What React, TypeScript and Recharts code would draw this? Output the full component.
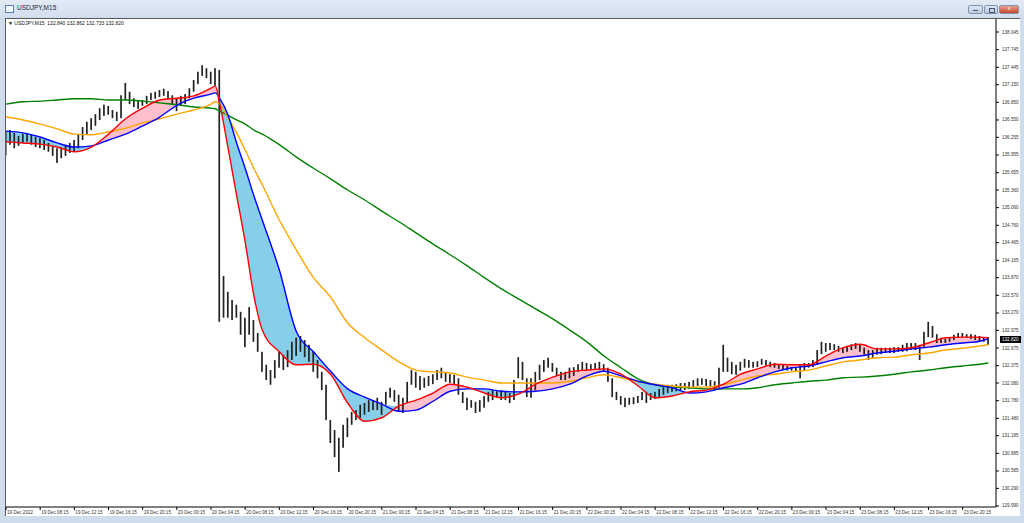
import React from 'react';
import { ComposedChart, Bar, Line, Area, XAxis, YAxis, ReferenceLine } from 'recharts';

// time labels on the bottom axis (one every 8 half-hour bars)
const timeLabels = [
  '19 Dec 2022', '19 Dec 08:15', '19 Dec 12:15', '19 Dec 16:15', '19 Dec 20:15',
  '20 Dec 00:15', '20 Dec 04:15', '20 Dec 08:15', '20 Dec 12:15', '20 Dec 16:15', '20 Dec 20:15',
  '21 Dec 00:15', '21 Dec 04:15', '21 Dec 08:15', '21 Dec 12:15', '21 Dec 16:15', '21 Dec 20:15',
  '22 Dec 00:15', '22 Dec 04:15', '22 Dec 08:15', '22 Dec 12:15', '22 Dec 16:15', '22 Dec 20:15',
  '23 Dec 00:15', '23 Dec 04:15', '23 Dec 08:15', '23 Dec 12:15', '23 Dec 16:15', '23 Dec 20:15',
];
const labelBars = timeLabels.map((_, k) => k * 8);

const priceTicks = [
  138.045, 137.745, 137.445, 137.15, 136.85, 136.55, 136.255, 135.955, 135.655, 135.36,
  135.06, 134.76, 134.465, 134.165, 133.87, 133.57, 133.27, 132.975, 132.675, 132.375,
  132.08, 131.78, 131.48, 131.185, 130.885, 130.585, 130.29, 129.99,
];

const highs = [
  136.35, 136.38, 136.33, 136.28, 136.31, 136.33, 136.30, 136.26, 136.24, 136.21,
  136.16, 136.11, 136.07, 136.09, 136.13, 136.16, 136.21, 136.31, 136.43, 136.52,
  136.58, 136.65, 136.75, 136.81, 136.79, 136.72, 136.69, 136.97, 137.18, 137.03,
  136.92, 136.87, 136.89, 136.96, 137.01, 137.03, 137.06, 137.08, 137.04, 136.97,
  136.92, 136.96, 136.99, 137.09, 137.23, 137.37, 137.48, 137.43, 137.37, 137.43,
  137.40, 133.90, 133.63, 133.49, 133.41, 133.29, 133.19, 133.37, 133.15, 132.93,
  132.61, 132.39, 132.30, 132.47, 132.61, 132.56, 132.64, 132.78, 132.85, 132.88,
  132.81, 132.73, 132.61, 132.47, 132.27, 132.05, 131.45, 131.28, 131.15, 131.37,
  131.49, 131.59, 131.62, 131.71, 131.74, 131.79, 131.79, 131.83, 131.76, 131.93,
  132.00, 131.96, 131.88, 131.83, 132.10, 132.30, 132.27, 132.20, 132.17, 132.20,
  132.23, 132.30, 132.34, 132.27, 132.23, 132.22, 132.16, 131.93, 131.83, 131.79,
  131.76, 131.79, 131.86, 131.93, 131.96, 131.94, 131.96, 131.93, 131.91, 132.13,
  132.52, 132.44, 132.16, 132.16, 132.27, 132.39, 132.47, 132.51, 132.42, 132.34,
  132.27, 132.27, 132.34, 132.35, 132.40, 132.44, 132.42, 132.40, 132.42, 132.44,
  132.40, 132.34, 132.16, 131.93, 131.86, 131.83, 131.83, 131.84, 131.86, 131.93,
  131.93, 131.91, 131.93, 131.98, 132.01, 132.05, 132.05, 132.06, 132.08, 132.08,
  132.10, 132.13, 132.16, 132.16, 132.15, 132.13, 132.11, 132.34, 132.73, 132.51,
  132.44, 132.39, 132.44, 132.49, 132.47, 132.44, 132.45, 132.49, 132.47, 132.44,
  132.42, 132.40, 132.39, 132.37, 132.35, 132.35, 132.40, 132.42, 132.42, 132.47,
  132.64, 132.78, 132.76, 132.76, 132.74, 132.71, 132.68, 132.71, 132.74, 132.76,
  132.73, 132.68, 132.64, 132.64, 132.68, 132.68, 132.68, 132.68, 132.69, 132.69,
  132.73, 132.76, 132.76, 132.76, 132.73, 132.95, 133.12, 133.05, 132.91, 132.85,
  132.83, 132.86, 132.90, 132.93, 132.93, 132.91, 132.91, 132.90, 132.88, 132.86,
  132.86,
];

const lows = [
  135.95, 136.13, 136.07, 136.11, 136.16, 136.18, 136.13, 136.09, 136.07, 136.04,
  136.01, 135.94, 135.82, 135.90, 135.94, 135.99, 136.01, 136.07, 136.21, 136.30,
  136.38, 136.45, 136.55, 136.62, 136.64, 136.58, 136.53, 136.58, 136.89, 136.82,
  136.77, 136.74, 136.79, 136.82, 136.89, 136.91, 136.94, 136.96, 136.91, 136.82,
  136.70, 136.79, 136.82, 136.92, 137.03, 137.16, 137.30, 137.26, 137.16, 137.13,
  133.12, 133.19, 133.19, 133.15, 133.19, 132.90, 132.69, 132.90, 132.78, 132.61,
  132.27, 132.13, 132.05, 132.16, 132.34, 132.30, 132.35, 132.47, 132.54, 132.61,
  132.52, 132.44, 132.27, 132.16, 131.96, 131.45, 131.06, 130.82, 130.57, 130.98,
  131.16, 131.37, 131.45, 131.49, 131.54, 131.59, 131.62, 131.62, 131.54, 131.71,
  131.83, 131.76, 131.59, 131.57, 131.74, 132.05, 132.00, 131.96, 132.00, 132.03,
  132.06, 132.13, 132.16, 132.10, 132.08, 132.05, 131.88, 131.74, 131.62, 131.66,
  131.57, 131.59, 131.66, 131.76, 131.79, 131.83, 131.79, 131.79, 131.74, 131.79,
  132.16, 132.13, 131.84, 131.83, 131.96, 132.13, 132.27, 132.34, 132.27, 132.20,
  132.13, 132.13, 132.16, 132.20, 132.27, 132.30, 132.30, 132.30, 132.32, 132.30,
  132.27, 132.10, 131.84, 131.79, 131.71, 131.67, 131.71, 131.72, 131.74, 131.79,
  131.74, 131.79, 131.81, 131.84, 131.88, 131.91, 131.93, 131.94, 131.96, 131.96,
  131.98, 132.01, 132.03, 132.05, 132.03, 132.01, 131.96, 132.00, 132.27, 132.27,
  132.23, 132.22, 132.29, 132.34, 132.34, 132.34, 132.35, 132.39, 132.37, 132.35,
  132.34, 132.32, 132.30, 132.29, 132.29, 132.27, 132.16, 132.30, 132.34, 132.35,
  132.40, 132.57, 132.61, 132.64, 132.64, 132.61, 132.59, 132.61, 132.64, 132.66,
  132.61, 132.56, 132.47, 132.51, 132.56, 132.57, 132.59, 132.59, 132.59, 132.61,
  132.61, 132.62, 132.64, 132.64, 132.47, 132.69, 132.86, 132.85, 132.76, 132.76,
  132.76, 132.78, 132.81, 132.85, 132.85, 132.85, 132.83, 132.81, 132.79, 132.78,
  132.73,
];

// moving averages, read at these bar numbers
const maIdx = [
  0, 4, 8, 12, 16, 20, 24, 28, 32, 36, 40, 44, 48, 49, 50, 52, 54, 56, 58, 60,
  64, 68, 72, 76, 80, 84, 88, 92, 96, 100, 104, 108, 112, 116, 120, 124, 128, 132, 136, 140,
  144, 148, 152, 156, 160, 164, 168, 172, 176, 180, 184, 188, 192, 196, 200, 204, 208, 212, 216, 220,
  224, 228, 230,
];
const maGreen = [
  136.82, 136.86, 136.87, 136.89, 136.91, 136.91, 136.89, 136.89, 136.87, 136.84, 136.81, 136.77, 136.75, 136.74, 136.70, 136.63, 136.55, 136.48, 136.38, 136.31,
  136.13, 135.92, 135.73, 135.55, 135.36, 135.19, 135.00, 134.82, 134.63, 134.44, 134.26, 134.07, 133.87, 133.68, 133.51, 133.34, 133.17, 132.98, 132.78, 132.54,
  132.34, 132.15, 132.05, 132.01, 132.00, 131.98, 131.98, 131.98, 132.00, 132.05, 132.08, 132.11, 132.13, 132.17, 132.18, 132.20, 132.23, 132.27, 132.30, 132.34,
  132.37, 132.40, 132.42,
];
const maOrange = [
  136.60, 136.55, 136.48, 136.40, 136.31, 136.30, 136.35, 136.41, 136.50, 136.57, 136.65, 136.72, 136.82, 136.86, 136.82, 136.58, 136.33, 136.04, 135.73, 135.45,
  134.85, 134.34, 133.87, 133.54, 133.10, 132.85, 132.64, 132.44, 132.30, 132.27, 132.25, 132.18, 132.13, 132.08, 132.08, 132.08, 132.08, 132.11, 132.17, 132.22,
  132.17, 132.10, 132.06, 132.03, 132.01, 132.01, 132.05, 132.13, 132.20, 132.23, 132.27, 132.30, 132.37, 132.44, 132.47, 132.51, 132.52, 132.56, 132.59, 132.64,
  132.67, 132.71, 132.73,
];
const maBlue = [
  136.36, 136.33, 136.26, 136.16, 136.09, 136.11, 136.21, 136.31, 136.45, 136.60, 136.80, 136.92, 136.99, 137.01, 136.92, 136.63, 136.16, 135.73, 135.27, 134.85,
  134.00, 132.95, 132.61, 132.28, 131.98, 131.84, 131.72, 131.60, 131.62, 131.77, 131.94, 131.98, 131.98, 131.94, 131.93, 131.94, 131.98, 132.06, 132.20, 132.28,
  132.20, 132.11, 132.05, 132.00, 131.91, 131.93, 132.00, 132.06, 132.17, 132.27, 132.34, 132.37, 132.44, 132.51, 132.54, 132.59, 132.62, 132.66, 132.69, 132.73,
  132.76, 132.79, 132.83,
];
const maRed = [
  136.18, 136.16, 136.14, 136.09, 136.01, 136.09, 136.31, 136.57, 136.75, 136.89, 136.92, 136.96, 137.09, 137.13, 136.84, 136.07, 135.27, 134.48, 133.58, 132.98,
  132.61, 132.39, 132.40, 132.23, 131.74, 131.43, 131.49, 131.69, 131.79, 131.91, 132.06, 132.01, 131.91, 131.83, 131.89, 132.06, 132.18, 132.27, 132.30, 132.32,
  132.23, 132.03, 131.83, 131.86, 131.93, 131.96, 132.06, 132.23, 132.32, 132.40, 132.39, 132.39, 132.54, 132.68, 132.74, 132.66, 132.66, 132.68, 132.76, 132.85,
  132.86, 132.86, 132.85,
];

const lastClose = 132.82;

const bars = highs.map((h, i) => ({ i, hl: [lows[i], h] }));
const maRows = maIdx.map((i, k) => {
  const r = maRed[k];
  const b = maBlue[k];
  return {
    i,
    g: maGreen[k],
    o: maOrange[k],
    b,
    r,
    pink: [b, Math.max(r, b)],
    sky: [r, Math.max(r, b)],
  };
});

const FONT = '"Liberation Sans", Arial, sans-serif';

const OhlcBar = (props: any) => {
  const { x, y, width, height } = props;
  if (x == null || y == null) return null;
  const cx = x + width / 2;
  const top = Math.min(y, y + height);
  return <rect x={cx - 0.85} y={top} width={1.7} height={Math.max(Math.abs(height), 1)} fill="#222" />;
};

const TimeTick = ({ x, y, payload }: any) => (
  <text x={x + 1} y={y + 1} fontSize={4.6} fill="#333" fontFamily={FONT} textAnchor="start" dominantBaseline="central">
    {timeLabels[labelBars.indexOf(payload.value)]}
  </text>
);

const PriceTick = ({ x, y, payload }: any) => (
  <text x={x} y={y} fontSize={4.6} fill="#333" fontFamily={FONT} textAnchor="start" dominantBaseline="central">
    {Number(payload.value).toFixed(3)}
  </text>
);

const PriceBox = ({ viewBox }: any) => {
  if (!viewBox) return null;
  const x = viewBox.x + viewBox.width;
  const y = viewBox.y;
  return (
    <g>
      <rect x={x + 4} y={y - 3.5} width={21} height={7} fill="#000" />
      <text x={x + 6} y={y} fontSize={4.6} fill="#fff" fontFamily={FONT} dominantBaseline="central">
        {lastClose.toFixed(3)}
      </text>
    </g>
  );
};

const btn = (left: number, width: number, bg: string): React.CSSProperties => ({
  position: 'absolute', left, top: 5, width, height: 9, background: bg,
  border: '1px solid #7f93ad', borderRadius: 2, boxSizing: 'border-box',
});

export default function App() {
  return (
    <div style={{ position: 'fixed', left: 0, top: 0, width: 1024, height: 523, background: '#cfdcec', overflow: 'hidden', fontFamily: FONT }}>
      {/* title bar */}
      <div style={{ position: 'absolute', left: 0, top: 0, width: 1024, height: 17, background: 'linear-gradient(#e2eaf5, #d2deee)' }} />
      <div style={{ position: 'absolute', left: 5, top: 5, width: 7, height: 6, border: '1px solid #5b7fb0', background: '#f4f8fc' }} />
      <div style={{ position: 'absolute', left: 17, top: 4, fontSize: 6.5, lineHeight: '8px', color: '#1c2838' }}>USDJPY,M15</div>
      <div style={btn(968, 15, 'linear-gradient(#dfe8f3, #b9cbe0)')}>
        <div style={{ position: 'absolute', left: 4, top: 4, width: 5, height: 1, background: '#44546a' }} />
      </div>
      <div style={btn(984, 14, 'linear-gradient(#dfe8f3, #b9cbe0)')}>
        <div style={{ position: 'absolute', left: 4, top: 2, width: 4, height: 3, border: '1px solid #44546a' }} />
      </div>
      <div style={btn(999, 20, 'linear-gradient(#e9a08e, #c8452c)')}>
        <div style={{ position: 'absolute', left: 0, top: -1, width: 18, textAlign: 'center', fontSize: 6, color: '#fff' }}>x</div>
      </div>

      {/* chart client area */}
      <div style={{ position: 'absolute', left: 5, top: 18, width: 1015, height: 498, background: '#fff', borderTop: '1px solid #5a5a5a', borderLeft: '1px solid #5a5a5a', boxSizing: 'border-box' }} />

      <div style={{ position: 'absolute', left: 0, top: 0 }}>
        <ComposedChart width={1024} height={523} data={bars} margin={{ top: 19, right: 0, bottom: 0, left: 6 }}>
          <XAxis
            type="number"
            dataKey="i"
            domain={[0, 231.8]}
            allowDataOverflow
            ticks={labelBars}
            interval={0}
            height={16}
            tickSize={3}
            tickMargin={1}
            tick={<TimeTick />}
            axisLine={{ stroke: '#000' }}
            tickLine={{ stroke: '#000' }}
          />
          <YAxis
            type="number"
            orientation="right"
            domain={[129.973, 138.266]}
            allowDataOverflow
            ticks={priceTicks}
            interval={0}
            width={28}
            tickSize={3}
            tickMargin={3}
            tick={<PriceTick />}
            axisLine={{ stroke: '#000' }}
            tickLine={{ stroke: '#000' }}
          />
          <Area data={maRows} dataKey="pink" type="monotone" stroke="none" fill="#ffc0cb" fillOpacity={1} isAnimationActive={false} />
          <Area data={maRows} dataKey="sky" type="monotone" stroke="none" fill="#87ceeb" fillOpacity={1} isAnimationActive={false} />
          <Bar dataKey="hl" barSize={1.7} shape={<OhlcBar />} isAnimationActive={false} />
          <Line data={maRows} dataKey="g" type="monotone" stroke="#008000" strokeWidth={1.4} dot={false} isAnimationActive={false} />
          <Line data={maRows} dataKey="o" type="monotone" stroke="#ffa500" strokeWidth={1.4} dot={false} isAnimationActive={false} />
          <Line data={maRows} dataKey="b" type="monotone" stroke="#0000ff" strokeWidth={1.4} dot={false} isAnimationActive={false} />
          <Line data={maRows} dataKey="r" type="monotone" stroke="#ff0000" strokeWidth={1.4} dot={false} isAnimationActive={false} />
          <ReferenceLine y={lastClose} stroke="none" ifOverflow="visible" label={<PriceBox />} />
        </ComposedChart>
      </div>

      <div style={{ position: 'absolute', left: 8, top: 20, fontSize: 5, lineHeight: '6px', color: '#111', whiteSpace: 'pre' }}>
        {'\u25BC USDJPY,M15  132.840 132.862 132.733 132.820'}
      </div>
    </div>
  );
}
